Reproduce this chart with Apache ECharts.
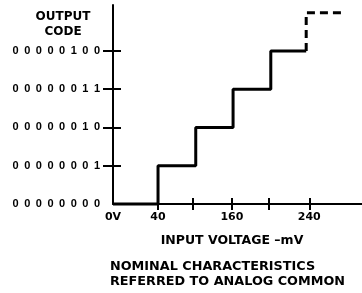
<!DOCTYPE html>
<html>
<head>
<meta charset="utf-8">
<script src="https://cdn.jsdelivr.net/npm/echarts@6/dist/echarts.min.js"></script>
<style>
  html, body { margin: 0; padding: 0; background: #fff; }
  #chart { width: 362px; height: 293px; }
</style>
</head>
<body>
<div id="chart"></div>
<script>
// --- data (x in drawing divisions, y in output code steps) ---
const stepX      = [0, 1.17, 2.15, 3.12, 4.1, 5.02]   // where each code begins
const codeLevel  = [0, 1, 2, 3, 4, 4]
const nextStepX  = [5.02, 5.95]                       // dashed next code
const nextLevel  = [4, 5]
const xTickPos   = [0, 1.17, 2.08, 3.09, 4.05, 5.1]
const xTickText  = ['0V', '40', '', '160', '', '240']
const yTickPos   = [0, 1, 2, 3, 4]
const yTickText  = ['00000000', '00000001', '00000010', '00000011', '00000100']

const FONT = 'DejaVu Sans'
// wide letter spacing of the code labels
const spaced = s => s.split('').join('\u2002')

const chart = echarts.init(document.getElementById('chart'))

const baseX = { type: 'value', min: 0, max: 6.47, position: 'bottom', splitLine: { show: false } }
const baseY = { type: 'value', min: 0, max: 5.2, position: 'left', splitLine: { show: false } }

chart.setOption({
  animation: false,
  grid: { left: 113, right: 0, top: 5, bottom: 89, containLabel: false, outerBoundsMode: 'none' },
  xAxis: [
    Object.assign({}, baseX, {
      axisLine: { show: true, lineStyle: { color: '#000', width: 2 } },
      axisTick: { show: true, inside: false, length: 6, customValues: xTickPos.slice(1),
                  lineStyle: { color: '#000', width: 2 } },
      axisLabel: { show: true, margin: 8, customValues: xTickPos,
                   color: '#000', fontFamily: FONT, fontWeight: 'bold', fontSize: 11,
                   formatter: v => xTickText[xTickPos.indexOf(v)] || '' }
    }),
    Object.assign({}, baseX, {
      axisLine: { show: false },
      axisTick: { show: true, inside: true, length: 6, customValues: xTickPos.slice(1),
                  lineStyle: { color: '#000', width: 2 } },
      axisLabel: { show: false }
    })
  ],
  yAxis: [
    Object.assign({}, baseY, {
      axisLine: { show: true, lineStyle: { color: '#000', width: 2 } },
      axisTick: { show: true, inside: false, length: 10, customValues: yTickPos.slice(1),
                  lineStyle: { color: '#000', width: 2 } },
      axisLabel: { show: true, margin: 13, customValues: yTickPos,
                   color: '#000', fontFamily: 'Liberation Sans', fontWeight: 'bold', fontSize: 11,
                   formatter: v => spaced(yTickText[yTickPos.indexOf(v)] || '') }
    }),
    Object.assign({}, baseY, {
      axisLine: { show: false },
      axisTick: { show: true, inside: true, length: 8, customValues: yTickPos.slice(1),
                  lineStyle: { color: '#000', width: 2 } },
      axisLabel: { show: false }
    })
  ],
  series: [
    {
      type: 'line', step: 'end', symbol: 'none', clip: false,
      data: stepX.map((x, i) => [x, codeLevel[i]]),
      lineStyle: { color: '#000', width: 3 }
    },
    {
      type: 'line', step: 'start', symbol: 'none', clip: false,
      data: nextStepX.map((x, i) => [x, nextLevel[i]]),
      lineStyle: { color: '#000', width: 3, type: [8, 5] }
    }
  ],
  graphic: [
    { type: 'text', x: 63, y: 17, style: { text: 'OUTPUT', align: 'center',
      verticalAlign: 'middle', fill: '#000', font: 'bold 12px "DejaVu Sans"' } },
    { type: 'text', x: 63, y: 32, style: { text: 'CODE', align: 'center',
      verticalAlign: 'middle', fill: '#000', font: 'bold 12px "DejaVu Sans"' } },
    { type: 'text', x: 232, y: 241, style: { text: 'INPUT VOLTAGE –mV', align: 'center',
      verticalAlign: 'middle', fill: '#000', font: 'bold 12.5px "DejaVu Sans"' } },
    { type: 'text', x: 110, y: 267, style: { text: 'NOMINAL CHARACTERISTICS', align: 'left',
      verticalAlign: 'middle', fill: '#000', font: 'bold 12.8px "DejaVu Sans"' } },
    { type: 'text', x: 110, y: 282, style: { text: 'REFERRED TO ANALOG COMMON', align: 'left',
      verticalAlign: 'middle', fill: '#000', font: 'bold 12.8px "DejaVu Sans"' } }
  ]
})
</script>
</body>
</html>
